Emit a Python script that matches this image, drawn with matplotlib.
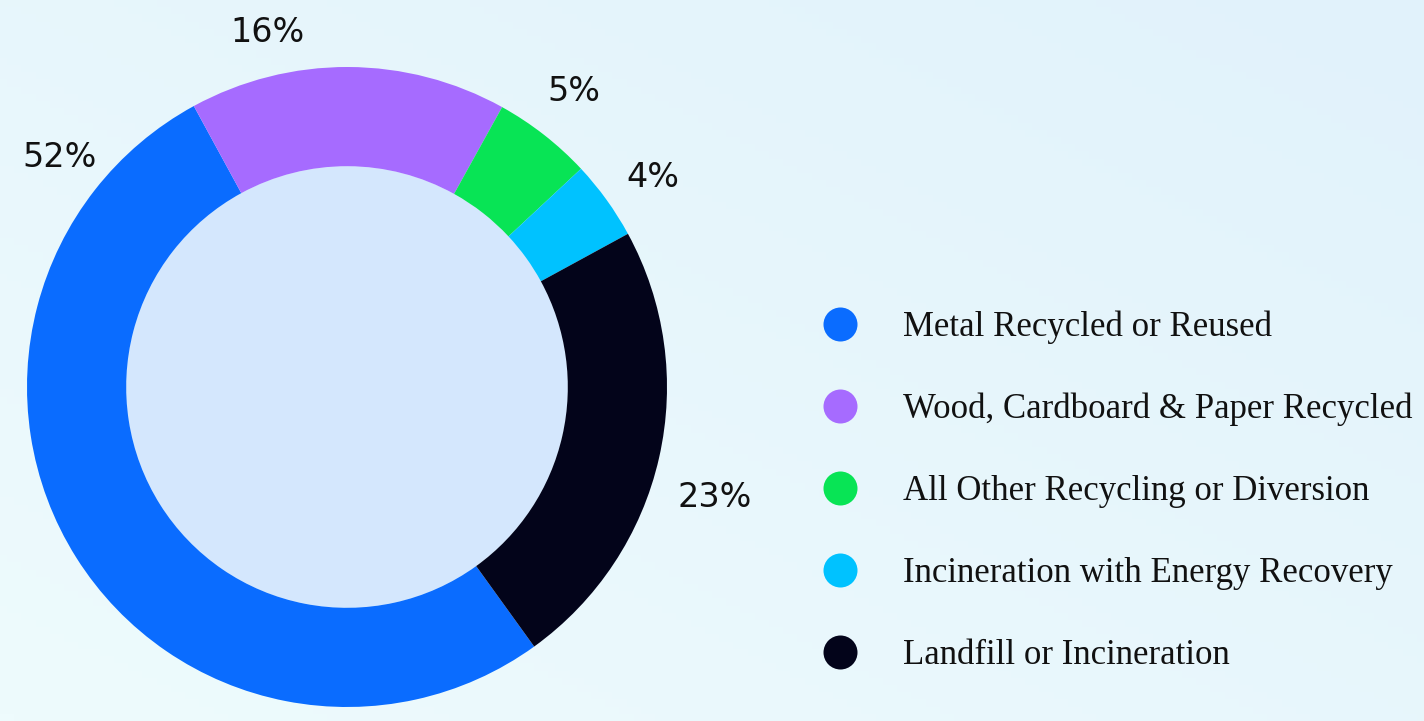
import numpy as np
import matplotlib.pyplot as plt
from matplotlib.patches import Circle
from matplotlib.colors import LinearSegmentedColormap

# Datos del gráfico
categorias = ['Metal Recycled or Reused',
              'Wood, Cardboard & Paper Recycled',
              'All Other Recycling or Diversion',
              'Incineration with Energy Recovery',
              'Landfill or Incineration']
porcentajes = [52, 16, 5, 4, 23]
colores = ['#0a6cff', '#a66bff', '#08e455', '#00c2ff', '#03041a']
# ángulo de la etiqueta relativo al centro de la cuña (grados) y radio
ajuste_angulo = [-70.8, 12.8, 0.5, -1.4, -4]
radio_etiqueta = [1.15, 1.135, 1.165, 1.16, 1.2]

W, H = 1424, 721
fig = plt.figure(figsize=(W / 100, H / 100), dpi=100)

# fondo degradado suave
bg = fig.add_axes([0, 0, 1, 1], zorder=-10)
gx, gy = np.meshgrid(np.linspace(0, 1, 200), np.linspace(0, 1, 100))
grad = 0.5 * gx + 0.5 * (1 - gy)
cmap_bg = LinearSegmentedColormap.from_list('bg', ['#eefbfd', '#e1f2fb'])
bg.imshow(grad, cmap=cmap_bg, aspect='auto', extent=[0, 1, 0, 1], origin='upper')
bg.axis('off')

# Donut
cx, cy, R = 347, 387, 320
ax = fig.add_axes([(cx - R) / W, (H - cy - R) / H, 2 * R / W, 2 * R / H])
wedges, _ = ax.pie(porcentajes, colors=colores, startangle=-54.2, counterclock=False,
                   radius=1, wedgeprops=dict(width=0.31, linewidth=0))
ax.add_patch(Circle((0, 0), 0.69, color='#d4e7fd', zorder=0, linewidth=0))
ax.set_xlim(-1, 1)
ax.set_ylim(-1, 1)
ax.set_aspect('equal')
ax.axis('off')

for w, p, da, r in zip(wedges, porcentajes, ajuste_angulo, radio_etiqueta):
    ang = np.deg2rad((w.theta1 + w.theta2) / 2 + da)
    ax.text(r * np.cos(ang), r * np.sin(ang), f'{p}%', ha='center', va='center',
            fontsize=24, color='#111111', clip_on=False)

# Leyenda
lx0, ly0, lw, lh = 800, 290, 624, 400
axl = fig.add_axes([lx0 / W, (H - ly0 - lh) / H, lw / W, lh / H])
axl.set_xlim(0, lw)
axl.set_ylim(4 + (690 - 652) / 82, -(324 - 290) / 82)
axl.axis('off')
for i, (cat, col) in enumerate(zip(categorias, colores)):
    axl.scatter(40, i, s=(34 * 0.72) ** 2, color=col, linewidths=0)
    axl.text(103, i + 0.15, cat, fontsize=25, family='Liberation Serif',
             color='#111111', va='baseline', ha='left')

fig.savefig('out.png', dpi=100)
